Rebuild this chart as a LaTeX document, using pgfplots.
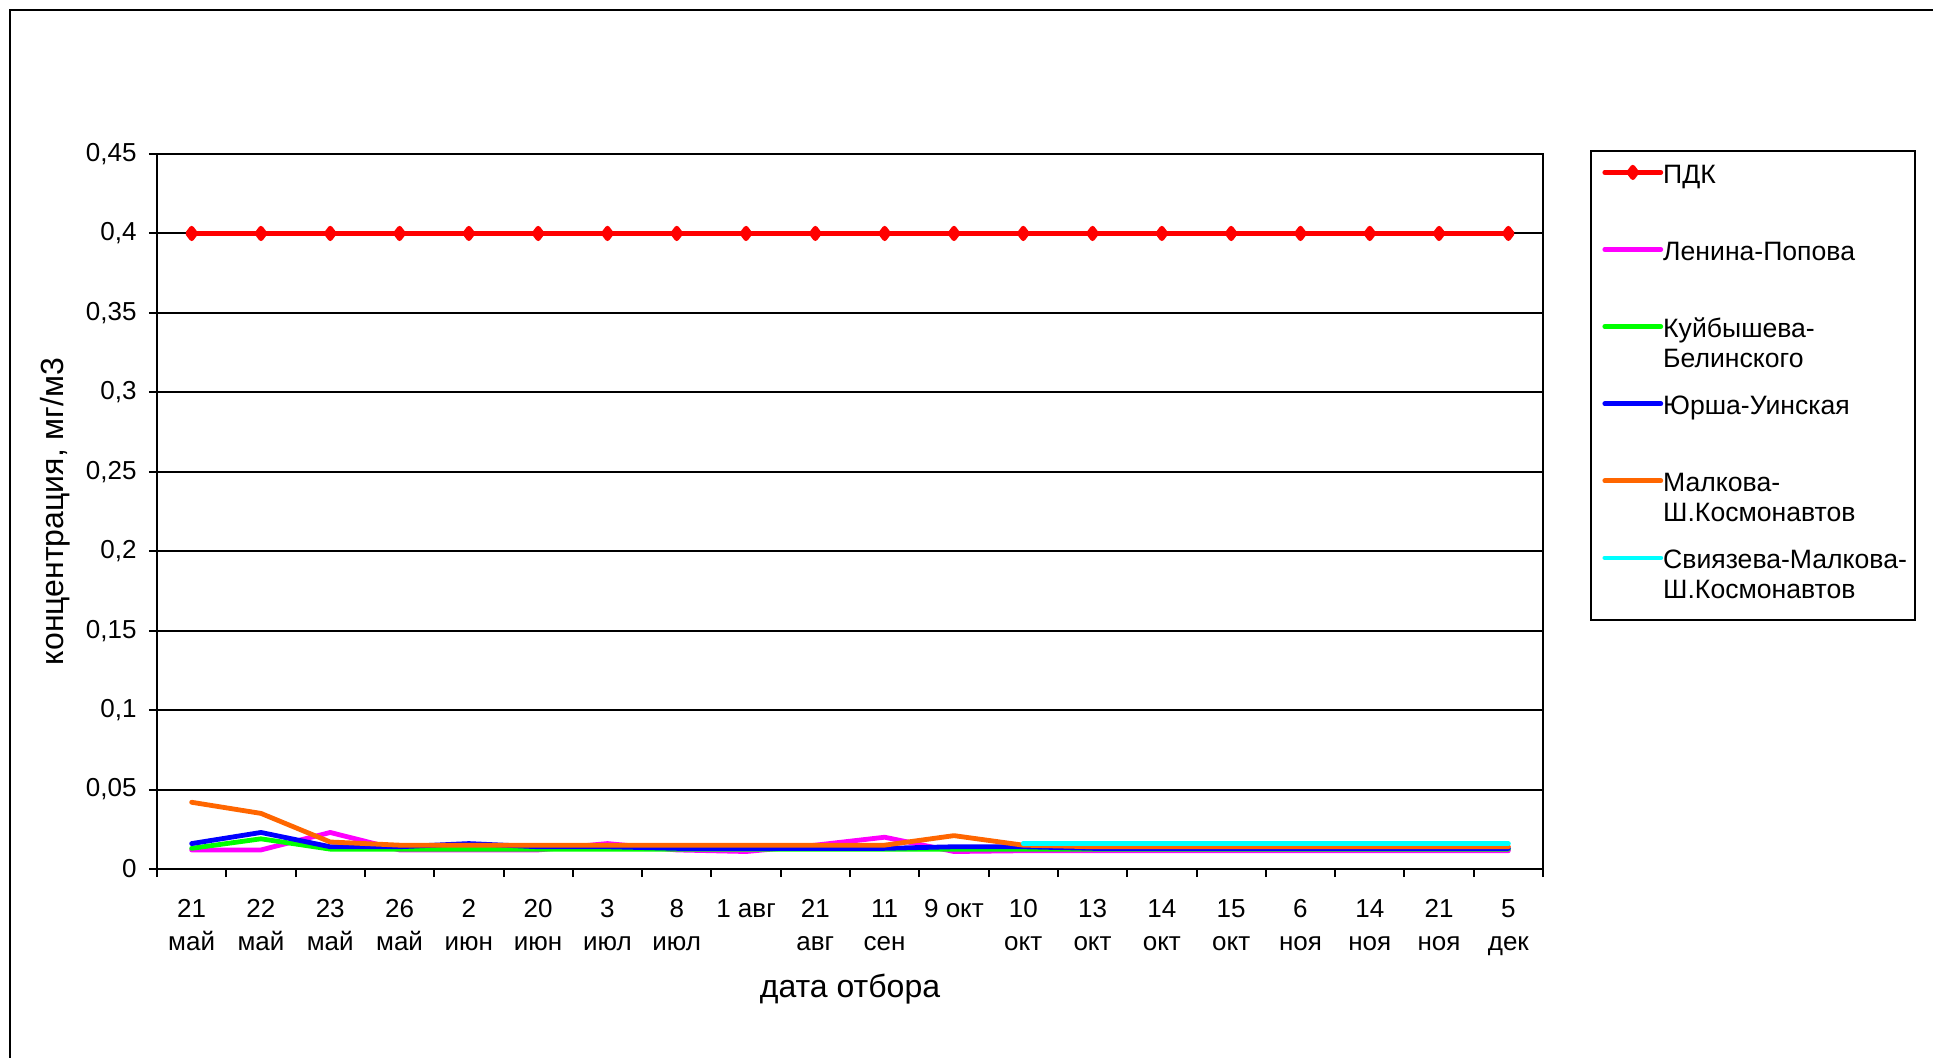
\documentclass[border=0pt]{standalone}
\usepackage{fontspec}
\setmainfont{Liberation Sans}
\usepackage{pgfplots}
\pgfplotsset{compat=1.18}
\definecolor{cRed}{HTML}{FF0000}
\definecolor{cMag}{HTML}{FF00FF}
\definecolor{cGreen}{HTML}{00FF00}
\definecolor{cBlue}{HTML}{0000FF}
\definecolor{cOrange}{HTML}{FF6600}
\definecolor{cCyan}{HTML}{00FFFF}
\newcommand\lgent[1]{\parbox[t]{120pt}{\fontsize{13.3}{14.8}\selectfont #1}}
\pgfplotsset{dline/.style={line width=2.4pt, line join=round, line cap=round}}
\begin{document}
\fontsize{13}{15}\selectfont
\begin{tikzpicture}
\useasboundingbox (0,0) rectangle (966.5pt,528.5pt);
\draw[line width=1pt] (5pt,-2pt) -- (5pt,523.5pt) -- (970pt,523.5pt);
\begin{axis}[
  at={(78.5pt,94pt)}, anchor=south west,
  scale only axis, width=693pt, height=357.5pt,
  xmin=-0.5, xmax=19.5, ymin=0, ymax=0.45,
  ytick={0,0.05,0.1,0.15,0.2,0.25,0.3,0.35,0.4,0.45},
  xtick={0,...,19},
  xticklabels={{21\\май},{22\\май},{23\\май},{26\\май},{2\\июн},{20\\июн},{3\\июл},{8\\июл},{1 авг},{21\\авг},{11\\сен},{9 окт},{10\\окт},{13\\окт},{14\\окт},{15\\окт},{6\\ноя},{14\\ноя},{21\\ноя},{5\\дек}},
  minor xtick={-0.5,0.5,...,19.5},
  xtick pos=bottom, ytick pos=left,
  tick align=outside, major tick length=4pt, minor tick length=4pt,
  every major x tick/.append style={draw=none},
  every tick/.append style={black, line width=1pt},
  axis line style={line width=1pt},
  ymajorgrids, major grid style={black, line width=1pt},
  /pgf/number format/assume math mode=true,
  yticklabel style={font=\fontsize{13}{15}\selectfont, /pgf/number format/fixed, /pgf/number format/use comma, /pgf/number format/precision=2, inner sep=0pt, xshift=-6pt},
  xticklabel style={font=\fontsize{13}{16.5}\selectfont, align=center, anchor=north, inner sep=0pt, yshift=-11pt},
  xlabel={дата отбора},
  ylabel={концентрация, мг/м3},
  label style={font=\fontsize{16}{18}\selectfont},
  xlabel style={at={(axis description cs:0.5,-0.168)}, anchor=center},
  ylabel style={at={(axis description cs:-0.0736,0.5)}, anchor=center, rotate=0},
  legend style={at={(1.0339,1.0056)}, anchor=north west, draw=black, line width=1pt,
    inner xsep=5.7pt, inner ysep=5.7pt, row sep=26.1pt, column sep=0pt,
    nodes={inner sep=0pt}, cells={anchor=base west, text height=10.5pt, text depth=0pt}},
  legend image code/.code={\draw[mark repeat=2,mark phase=2,#1] plot coordinates {(0pt,5.5pt) (14pt,5.5pt) (28pt,5.5pt)};},
]
\addplot[dline, color=cRed, mark=diamond*, mark size=2.6pt, mark options={solid, fill=cRed}] coordinates {
(0,0.4) (1,0.4) (2,0.4) (3,0.4) (4,0.4) (5,0.4) (6,0.4) (7,0.4) (8,0.4) (9,0.4)
(10,0.4) (11,0.4) (12,0.4) (13,0.4) (14,0.4) (15,0.4) (16,0.4) (17,0.4) (18,0.4) (19,0.4)};
\addlegendentry{\lgent{ПДК}}
\addplot[dline, color=cMag, mark=none] coordinates {
(0,0.012) (1,0.012) (2,0.023) (3,0.012) (4,0.012) (5,0.012) (6,0.016) (7,0.012) (8,0.011) (9,0.015)
(10,0.020) (11,0.011) (12,0.0115) (13,0.0115) (14,0.0115) (15,0.0115) (16,0.0115) (17,0.0115) (18,0.0115) (19,0.0115)};
\addlegendentry{\lgent{Ленина-Попова}}
\addplot[dline, color=cGreen, mark=none] coordinates {
(0,0.013) (1,0.019) (2,0.0125) (3,0.0125) (4,0.0125) (5,0.0125) (6,0.0125) (7,0.0125) (8,0.0125) (9,0.0125)
(10,0.0125) (11,0.0125) (12,0.0125) (13,0.0125) (14,0.0125) (15,0.0125) (16,0.0125) (17,0.0125) (18,0.0125) (19,0.0125)};
\addlegendentry{\lgent{\mbox{Куйбышева-}\\Белинского}}
\addplot[dline, color=cBlue, mark=none] coordinates {
(0,0.016) (1,0.023) (2,0.014) (3,0.014) (4,0.016) (5,0.014) (6,0.014) (7,0.013) (8,0.013) (9,0.013)
(10,0.013) (11,0.014) (12,0.014) (13,0.013) (14,0.013) (15,0.013) (16,0.013) (17,0.013) (18,0.013) (19,0.013)};
\addlegendentry{\lgent{Юрша-Уинская}}
\addplot[dline, color=cOrange, mark=none] coordinates {
(0,0.042) (1,0.035) (2,0.017) (3,0.015) (4,0.015) (5,0.015) (6,0.015) (7,0.015) (8,0.015) (9,0.015)
(10,0.015) (11,0.021) (12,0.015) (13,0.014) (14,0.014) (15,0.014) (16,0.014) (17,0.014) (18,0.014) (19,0.014)};
\addlegendentry{\lgent{\mbox{Малкова-}\\Ш.Космонавтов}}
\addplot[dline, color=cCyan, mark=none] coordinates {
(12,0.016) (13,0.016) (14,0.016) (15,0.016) (16,0.016) (17,0.016) (18,0.016) (19,0.016)};
\addlegendentry[text depth=19.6pt]{\lgent{\mbox{Свиязева-Малкова-}\\Ш.Космонавтов}}
\end{axis}
\end{tikzpicture}
\end{document}
